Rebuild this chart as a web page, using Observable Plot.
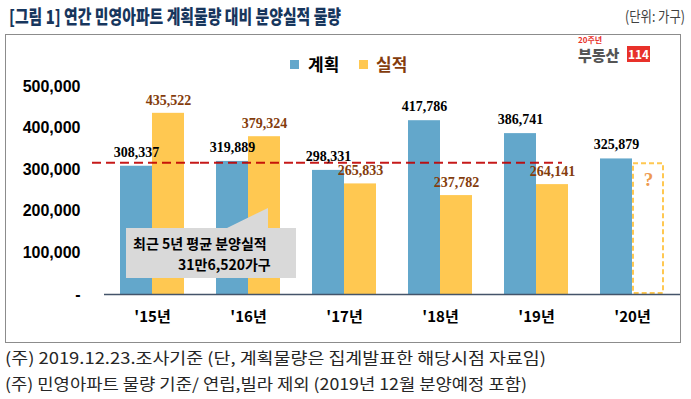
<!DOCTYPE html>
<html><head><meta charset="utf-8">
<script src="https://cdn.jsdelivr.net/npm/d3@7"></script>
<script src="https://cdn.jsdelivr.net/npm/@observablehq/plot@0.6"></script>
<style>
body{margin:0;width:691px;height:399px;position:relative;background:#fff;overflow:hidden;font-family:"Noto Sans CJK KR","Noto Sans",sans-serif}
.abs{position:absolute;white-space:nowrap;line-height:1}
.fit{display:inline-block;transform-origin:left center}
#title{left:9px;top:6px;font-size:19px;font-weight:900;color:#17365D}
#unit{left:625px;top:8px;font-size:15px;color:#404040}
#frame{left:5px;top:34px;width:674px;height:307px;border:1px solid #8c8c8c;box-sizing:content-box}
#chart{position:absolute;left:0;top:0}
.leg{font-size:17px;font-weight:bold}
.sw{position:absolute;width:9px;height:9px}
#callout{position:absolute;left:126px;top:208px;width:170px;height:70px;background:#d9d9d9;
 clip-path:polygon(0 20px,101px 20px,142px 0,142px 20px,170px 20px,170px 70px,0 70px);z-index:5}
#callout div{position:absolute;font-weight:bold;font-size:14px;color:#000;white-space:nowrap;line-height:1}
.foot{font-size:16px;color:#262626}
#logo20{left:578px;top:36px;font-size:8px;font-weight:bold;color:#e8312a}
#logoTxt{left:578px;top:47px;font-size:15px;font-weight:900;color:#555}
#logoBox{left:627px;top:46px;width:23px;height:16px;background:#e8312a;color:#fff;font-size:12px;font-weight:bold;text-align:center;line-height:16px}
svg [aria-label^="y-axis"] text{font-family:"Liberation Sans",Arial,sans-serif;font-weight:bold;font-size:16px;fill:#000}
</style></head><body>
<div id="frame" class="abs"></div>
<div id="chart"></div>
<div class="abs" id="title"><span class="fit" data-w="332">[그림 1] 연간 민영아파트 계획물량 대비 분양실적 물량</span></div>
<div class="abs" id="unit"><span class="fit" data-w="60">(단위: 가구)</span></div>
<div class="sw" style="left:290px;top:60px;background:#63A7CB"></div>
<div class="abs leg" style="left:308px;top:55px;color:#000">계획</div>
<div class="sw" style="left:359px;top:60px;background:#FFC851"></div>
<div class="abs leg" style="left:376px;top:55px;color:#843C0C">실적</div>
<div class="abs" id="logo20">20주년</div>
<div class="abs" id="logoTxt">부동산</div>
<div class="abs" id="logoBox">114</div>
<div id="callout">
  <div style="left:7px;top:28px">최근 5년 평균 분양실적</div>
  <div style="left:52px;top:49px">31만6,520가구</div>
</div>
<div class="abs foot" style="left:5px;top:349px"><span class="fit" data-w="541">(주) 2019.12.23.조사기준 (단, 계획물량은 집계발표한 해당시점 자료임)</span></div>
<div class="abs foot" style="left:5px;top:375px"><span class="fit" data-w="522">(주) 민영아파트 물량 기준/ 연립,빌라 제외 (2019년 12월 분양예정 포함)</span></div>
<script>
const years = ["'15년","'16년","'17년","'18년","'19년","'20년"];
const seriesNames = ["계획","실적"];
const planned = [308337,319889,298331,417786,386741,325879];
const actual = [435522,379324,265833,237782,264141,null];
const avgActual = 316520;
const yTicks = [0,100000,200000,300000,400000,500000];
const colors = ["#63A7CB","#FFC851"];

const rows = [];
years.forEach((y,i)=>{
  rows.push({year:y, series:"계획", value:planned[i]});
  if (actual[i] != null) rows.push({year:y, series:"실적", value:actual[i]});
});
const plannedRows = rows.filter(d=>d.series==="계획");
const actualRows = rows.filter(d=>d.series==="실적");
const pending = years.filter((y,i)=>actual[i]==null).map(y=>({year:y, series:"실적", value:avgActual}));
const avgRows = years.filter((y,i)=>actual[i]!=null).map(y=>({year:y, value:avgActual}));
const fmt = d3.format(",");
const serif = "'Liberation Serif','Times New Roman',serif";
const redLine = {fx:"year", y:"value", stroke:"#C00000", strokeWidth:2, strokeDasharray:"9,5", strokeOpacity:0.9};

const chart = Plot.plot({
  width:691, height:342,
  marginLeft:104, marginRight:11, marginTop:86, marginBottom:48,
  style:{background:"transparent", fontFamily:"'Liberation Sans',sans-serif", overflow:"visible"},
  fx:{domain:years, padding:0, axis:null, label:null},
  x:{domain:seriesNames, paddingInner:0, paddingOuter:0.5, axis:null, label:null},
  y:{domain:[0,500000], ticks:yTicks, tickFormat:d=>d===0?"-":fmt(d), tickSize:0, tickPadding:24, label:null},
  color:{domain:seriesNames, range:colors},
  marks:[
    Plot.barY(rows, {fx:"year", x:"series", y:"value", fill:"series"}),
    Plot.barY(pending, {fx:"year", x:"series", y:"value", fill:"white", stroke:colors[1], strokeWidth:2, strokeDasharray:"5,3", inset:1}),
    Plot.text(pending, {fx:"year", x:"series", y:"value", text:()=>"?", dy:17, fill:"#EE9A50", fontSize:19, fontWeight:"bold", fontFamily:serif}),
    Plot.ruleY([0], {stroke:"#44546A", strokeWidth:1.5}),
    Plot.ruleY(avgRows.slice(0,1), {...redLine, insetLeft:-12}),
    Plot.ruleY(avgRows.slice(1,-1), redLine),
    Plot.ruleY(avgRows.slice(-1), {...redLine, insetRight:22}),
    Plot.text(plannedRows, {fx:"year", x:"series", y:"value", text:d=>fmt(d.value), dy:-14, fill:"#000", fontSize:14, fontWeight:"bold", fontFamily:serif}),
    Plot.text(actualRows, {fx:"year", x:"series", y:"value", text:d=>fmt(d.value), dy:-13, fill:"#843C0C", fontSize:14, fontWeight:"bold", fontFamily:serif}),
    Plot.text(years, {fx:d=>d, text:d=>d, frameAnchor:"bottom", dy:27, fill:"#000", fontSize:15, fontWeight:"bold", fontFamily:"'Noto Sans CJK KR',sans-serif"})
  ]
});
document.getElementById("chart").appendChild(chart);
document.querySelectorAll(".fit").forEach(el=>{
  const w = el.getBoundingClientRect().width;
  el.style.transform = `scaleX(${(+el.dataset.w)/w})`;
});
</script>
</body></html>
